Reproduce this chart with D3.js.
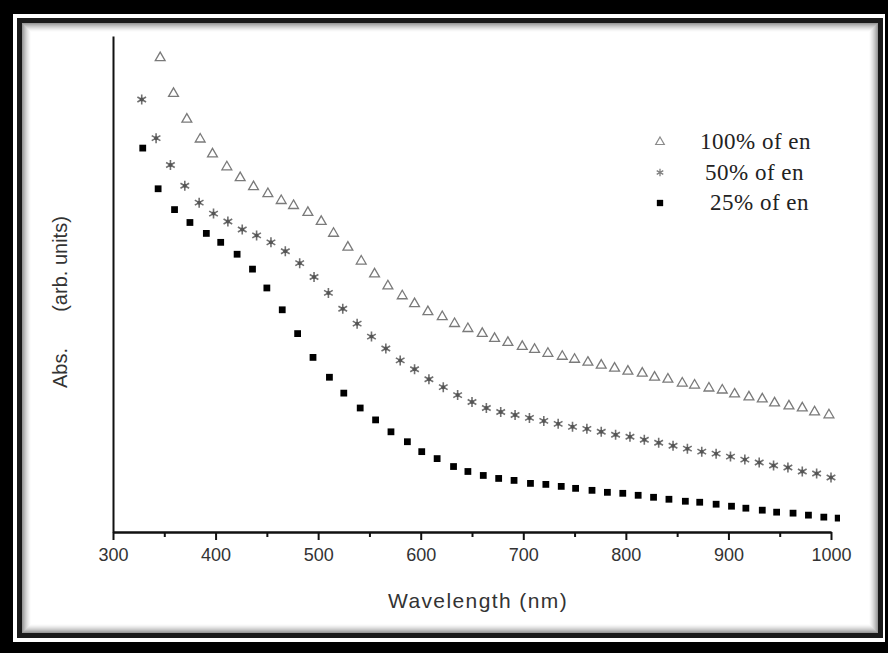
<!DOCTYPE html>
<html>
<head>
<meta charset="utf-8">
<script src="https://cdn.jsdelivr.net/npm/d3@7/dist/d3.min.js"></script>
<style>
  body { margin: 0; background: #000; }
  svg { display: block; }
  .axis path, .axis line { stroke: #111; stroke-width: 2; }
  .axis text { font-family: "Liberation Sans", Arial, sans-serif; font-size: 18px; fill: #333; }
</style>
</head>
<body>
<svg width="888" height="653"></svg>
<script>
// wavelength (nm) and absorbance (arb. units)
var wl100 = [346,359,372,385,397,411,424,437,451,464,476,490,503,515,529,542,555,568,582,594,
             607,621,633,646,660,672,685,699,711,724,738,750,763,776,789,802,816,828,841,855,
             867,881,894,906,920,933,945,959,972,984,998];
var abs100 = [4.78,4.42,4.16,3.96,3.81,3.68,3.57,3.48,3.41,3.34,3.29,3.22,3.13,3.01,2.87,2.73,2.60,2.48,2.38,2.30,
              2.22,2.17,2.10,2.05,2.00,1.95,1.91,1.87,1.84,1.80,1.77,1.74,1.71,1.68,1.65,1.62,1.60,1.56,1.54,1.50,
              1.48,1.45,1.43,1.39,1.36,1.34,1.30,1.27,1.25,1.21,1.18];

var wl50 = [328,342,356,370,384,398,412,426,440,454,468,482,496,510,524,538,552,566,580,594,
            608,622,636,650,664,678,692,706,720,734,748,762,776,790,804,818,832,846,860,874,
            888,902,916,930,944,958,972,986,1000];
var abs50 = [4.36,3.97,3.70,3.49,3.32,3.21,3.13,3.05,2.99,2.92,2.83,2.71,2.57,2.41,2.25,2.10,1.97,1.85,1.73,1.64,
             1.54,1.46,1.38,1.31,1.25,1.21,1.18,1.15,1.12,1.09,1.06,1.04,1.01,0.98,0.96,0.93,0.90,0.87,0.84,0.81,
             0.79,0.76,0.73,0.70,0.67,0.65,0.61,0.59,0.55];

var wl25 = [329,344,360,375,391,405,421,436,450,465,480,495,511,525,541,556,571,587,601,616,
            632,646,661,676,691,707,722,737,751,767,782,797,812,827,842,858,872,888,903,917,
            933,947,963,978,993,1007];
var abs25 = [3.87,3.46,3.25,3.12,3.01,2.92,2.80,2.65,2.46,2.24,2.00,1.76,1.56,1.40,1.25,1.13,1.01,0.91,0.81,0.74,
             0.66,0.61,0.57,0.54,0.52,0.49,0.48,0.46,0.44,0.42,0.40,0.39,0.37,0.35,0.33,0.31,0.30,0.28,0.26,0.24,
             0.22,0.20,0.19,0.17,0.15,0.14];

var xTicks = [300,400,500,600,700,800,900,1000];
var xMinor = [350,450,550,650,750,850,950];
var seriesNames = ["100% of en", "50% of en", "25% of en"];

var svg = d3.select("svg");
var W = +svg.attr("width"), H = +svg.attr("height");

// framed background
svg.append("rect").attr("width", W).attr("height", H).attr("fill", "#000");
svg.append("rect").attr("x", 13).attr("y", 14).attr("width", 872).attr("height", 628).attr("fill", "#fff");
svg.append("rect").attr("x", 17).attr("y", 18).attr("width", 866).attr("height", 620).attr("fill", "#1a1a1a");
svg.append("rect").attr("x", 22).attr("y", 23).attr("width", 856).attr("height", 610).attr("fill", "#fff");
for (var i = 0; i < 9; i++) {
    svg.append("rect")
        .attr("x", 22.5 + i).attr("y", 23.5 + i)
        .attr("width", 855 - 2 * i).attr("height", 609 - 2 * i)
        .attr("fill", "none")
        .attr("stroke", "#000")
        .attr("stroke-opacity", 0.4 * Math.pow(1 - i / 9, 1.6));
}

var margin = {top: 36, left: 113, right: 57, bottom: 121};
var width = W - margin.left - margin.right;
var height = H - margin.top - margin.bottom;

var x = d3.scaleLinear().domain([300, 1000]).range([0, width]);
var y = d3.scaleLinear().domain([0, 5]).range([height, 0]);

var g = svg.append("g").attr("transform", "translate(" + margin.left + "," + margin.top + ")");

svg.append("clipPath").attr("id", "clip")
    .append("rect").attr("x", -10).attr("y", -10).attr("width", width + 19).attr("height", height + 10);

// x axis with minor ticks
g.append("g")
    .attr("class", "axis")
    .attr("transform", "translate(0," + height + ")")
    .call(d3.axisBottom(x).tickValues(xMinor).tickSize(5).tickSizeOuter(0).tickFormat(""));
g.append("g")
    .attr("class", "axis")
    .attr("transform", "translate(0," + height + ")")
    .call(d3.axisBottom(x).tickValues(xTicks).tickSize(8).tickSizeOuter(0).tickPadding(8).tickFormat(d3.format("d")));

g.append("g")
    .attr("class", "axis")
    .call(d3.axisLeft(y).tickValues([]).tickSizeOuter(0));

// markers
var plot = g.append("g").attr("clip-path", "url(#clip)");

function pts(xs, ys) {
    return xs.map(function (d, i) { return {x: d, y: ys[i]}; });
}

var triangle = d3.symbol().type(d3.symbolTriangle).size(42);
var star = d3.symbol().type(d3.symbolAsterisk).size(70);
var square = d3.symbol().type(d3.symbolSquare).size(46);

plot.selectAll(".tri")
    .data(pts(wl100, abs100))
    .enter().append("path")
    .attr("class", "tri")
    .attr("d", triangle)
    .attr("transform", function (d) { return "translate(" + x(d.x) + "," + y(d.y) + ")"; })
    .attr("fill", "#fff")
    .attr("stroke", "#7a7a7a")
    .attr("stroke-width", 1.3);

var starG = plot.selectAll(".star")
    .data(pts(wl50, abs50))
    .enter().append("g")
    .attr("class", "star")
    .attr("transform", function (d) { return "translate(" + x(d.x) + "," + y(d.y) + ")"; });
starG.append("path")
    .attr("d", star)
    .attr("fill", "none")
    .attr("stroke", "#707070")
    .attr("stroke-width", 1.6);
starG.append("circle")
    .attr("r", 2)
    .attr("fill", "#555");

plot.selectAll(".sq")
    .data(pts(wl25, abs25))
    .enter().append("path")
    .attr("class", "sq")
    .attr("d", square)
    .attr("transform", function (d) { return "translate(" + x(d.x) + "," + y(d.y) + ")"; })
    .attr("fill", "#000");

// axis titles
svg.append("text")
    .attr("x", 478).attr("y", 608)
    .attr("text-anchor", "middle")
    .style("font-family", "Liberation Sans, Arial, sans-serif")
    .style("font-size", "21px")
    .style("letter-spacing", "1.4px")
    .attr("fill", "#333")
    .text("Wavelength (nm)");

svg.append("text")
    .attr("transform", "translate(67,264) rotate(-90)")
    .attr("text-anchor", "middle")
    .style("font-family", "Liberation Sans, Arial, sans-serif")
    .style("font-size", "20px")
    .attr("fill", "#333")
    .text("(arb. units)");
svg.append("text")
    .attr("transform", "translate(67,368) rotate(-90)")
    .attr("text-anchor", "middle")
    .style("font-family", "Liberation Sans, Arial, sans-serif")
    .style("font-size", "20px")
    .attr("fill", "#333")
    .text("Abs.");

// legend
var legend = svg.append("g").attr("transform", "translate(660,142)");
var item = legend.selectAll(".item")
    .data(seriesNames)
    .enter().append("g")
    .attr("class", "item")
    .attr("transform", function (d, i) { return "translate(0," + (i * 30.5) + ")"; });

item.filter(function (d, i) { return i === 0; }).append("path")
    .attr("d", triangle.size(32)())
    .attr("fill", "#fff").attr("stroke", "#8a8a8a").attr("stroke-width", 1.2);
item.filter(function (d, i) { return i === 1; }).append("path")
    .attr("d", star.size(40)())
    .attr("fill", "none").attr("stroke", "#808080").attr("stroke-width", 1.3);
item.filter(function (d, i) { return i === 2; }).append("path")
    .attr("d", square.size(40)())
    .attr("fill", "#000");

item.append("text")
    .attr("x", function (d, i) { return 40 + i * 5; })
    .attr("y", 7)
    .style("font-family", "Liberation Serif, Times New Roman, serif")
    .style("font-size", "23px")
    .style("letter-spacing", "0.5px")
    .attr("fill", "#222")
    .text(function (d) { return d; });
</script>
</body>
</html>
